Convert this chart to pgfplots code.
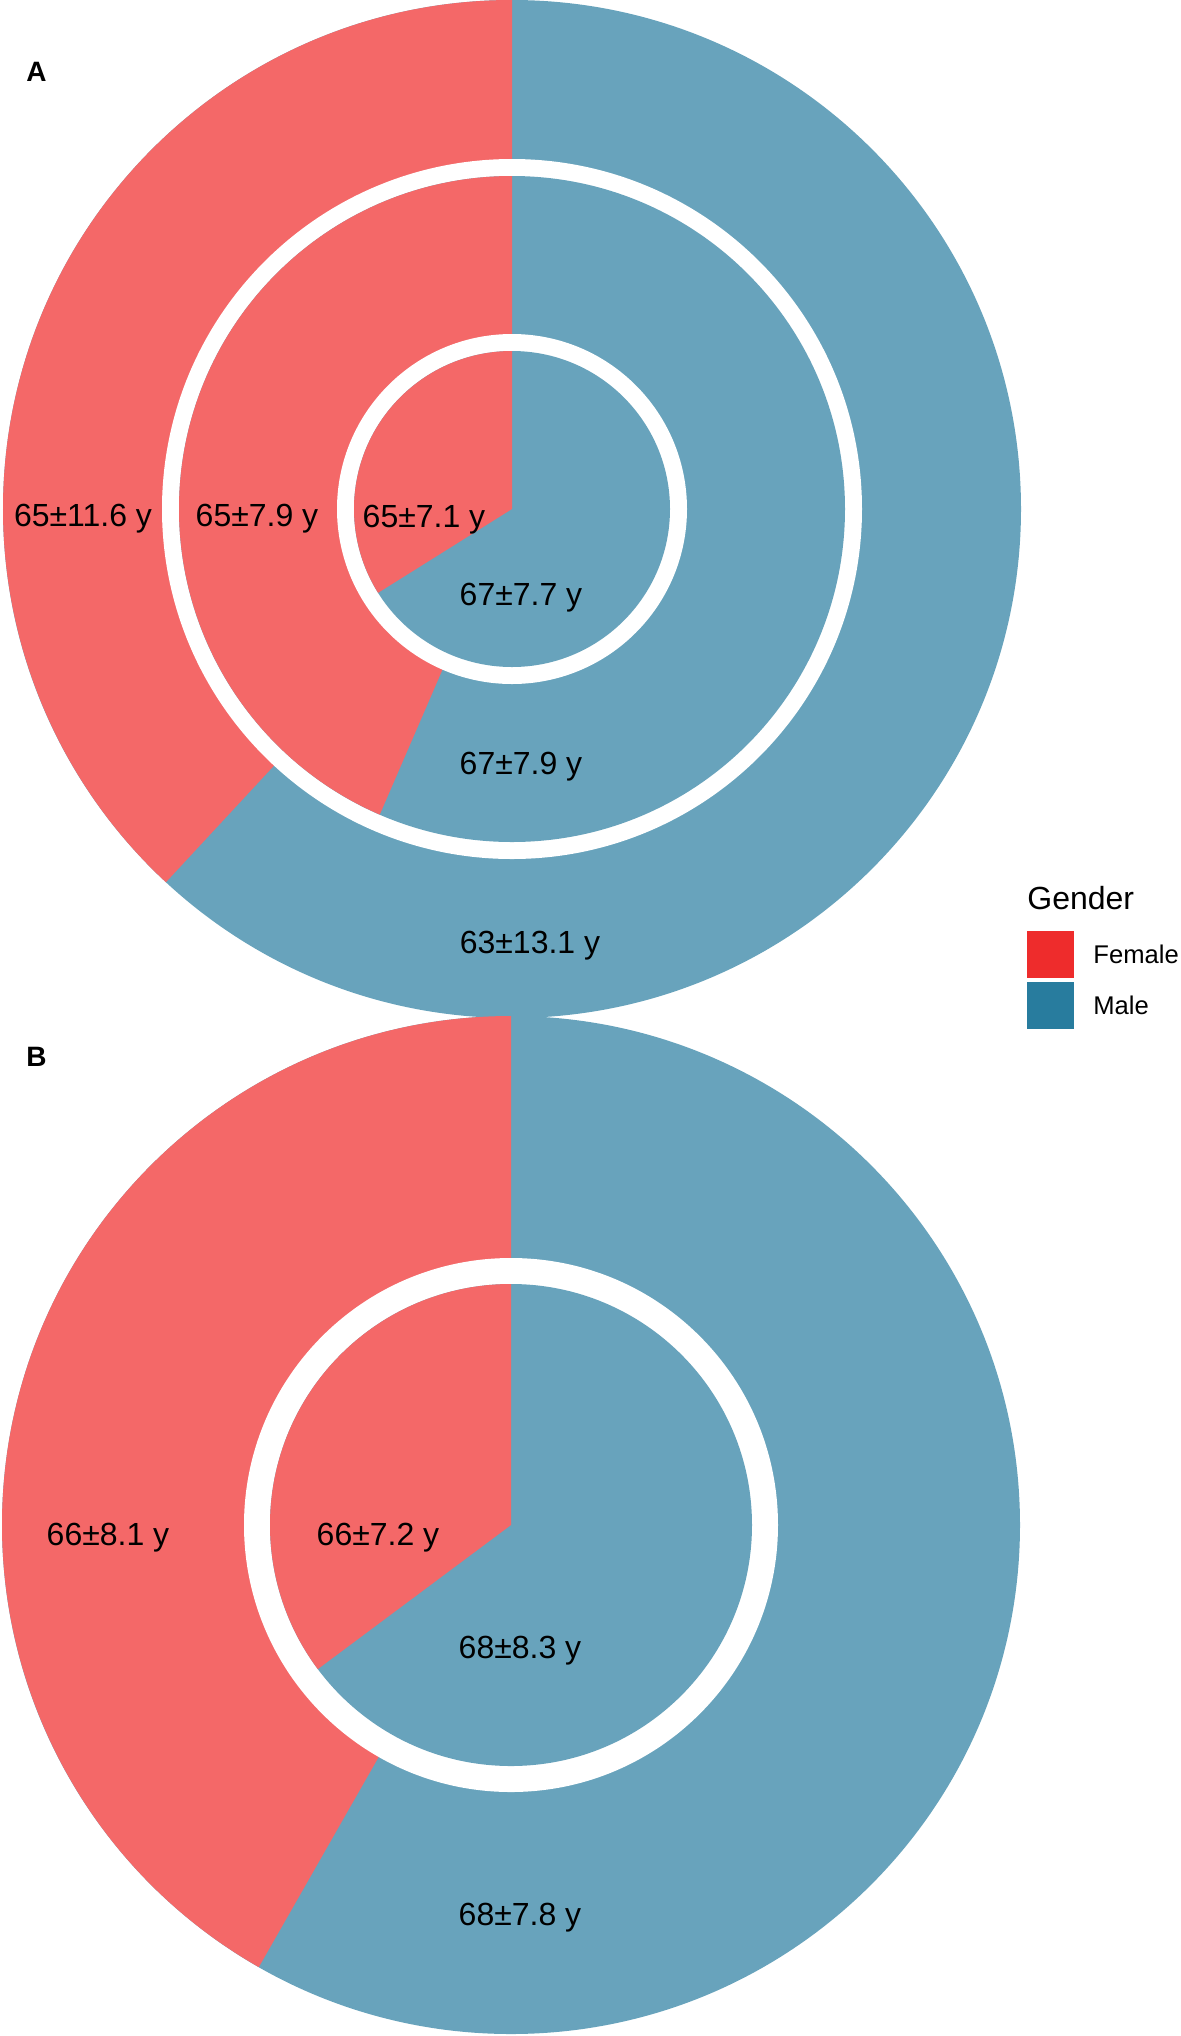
\documentclass[border=0pt]{standalone}
\usepackage{fontspec}
\setmainfont{Liberation Sans}
\usepackage{pgfplots}
\pgfplotsset{compat=1.18}
\definecolor{fempie}{HTML}{F46868}
\definecolor{malepie}{HTML}{68A3BC}
\definecolor{femkey}{HTML}{EE2C2C}
\definecolor{malekey}{HTML}{287C9E}
% female shares (fraction of the circle) of each ring
\def\AoutF{0.381}\def\AmidF{0.435}\def\AinF{0.339}
\def\BoutF{0.4175}\def\BinF{0.352}
% 1 px = 0.5 pt
\newcommand{\sector}[5]{% cx, cy, radius(px), fraction, color
  \fill[#5] (axis cs:#1,#2) -- ++(90:{#3*0.5pt}) arc[start angle=90, end angle={90+360*#4}, radius={#3*0.5pt}] -- cycle;}
\newcommand{\disc}[4]{\fill[#4] (axis cs:#1,#2) circle[radius={#3*0.5pt}];}
\begin{document}
\begin{tikzpicture}
\begin{axis}[
  scale only axis, width=590.5pt, height=1018pt,
  xmin=0, xmax=1181, ymin=0, ymax=2036, y dir=reverse,
  hide axis, clip=false]
\path (axis cs:0,0) rectangle (axis cs:1181,2036);
% Panel A
\disc{512}{509}{509}{malepie}
\sector{512}{509}{509}{\AoutF}{fempie}
\disc{512}{509}{350}{white}
\disc{512}{509}{333}{malepie}
\sector{512}{509}{333}{\AmidF}{fempie}
\disc{512}{509}{175}{white}
\disc{512}{509}{158}{malepie}
\sector{512}{509}{158}{\AinF}{fempie}
% Panel B
\disc{511}{1525}{509}{malepie}
\sector{511}{1525}{509}{\BoutF}{fempie}
\disc{511}{1525}{267}{white}
\disc{511}{1525}{241}{malepie}
\sector{511}{1525}{241}{\BinF}{fempie}
% labels
\begin{scope}[every node/.style={inner sep=0pt, anchor=base, font=\fontsize{16}{19}\selectfont}]
\node at (axis cs:83,526) {65±11.6 y};
\node at (axis cs:257,526) {65±7.9 y};
\node at (axis cs:424,527) {65±7.1 y};
\node at (axis cs:521,605) {67±7.7 y};
\node at (axis cs:521,774) {67±7.9 y};
\node at (axis cs:530,953) {63±13.1 y};
\node at (axis cs:108,1545) {66±8.1 y};
\node at (axis cs:378,1545) {66±7.2 y};
\node at (axis cs:520,1658) {68±8.3 y};
\node at (axis cs:520,1925) {68±7.8 y};
\end{scope}
\node[inner sep=0pt, anchor=base west, font=\fontsize{14}{17}\selectfont\bfseries] at (axis cs:26,81) {A};
\node[inner sep=0pt, anchor=base west, font=\fontsize{14}{17}\selectfont\bfseries] at (axis cs:26,1066) {B};
% legend
\node[inner sep=0pt, anchor=base west, font=\fontsize{16}{19}\selectfont] at (axis cs:1027,909) {Gender};
\fill[femkey] (axis cs:1027,931) rectangle (axis cs:1074,978);
\fill[malekey] (axis cs:1027,982) rectangle (axis cs:1074,1029);
\node[inner sep=0pt, anchor=base west, font=\fontsize{12.8}{15}\selectfont] at (axis cs:1093,963) {Female};
\node[inner sep=0pt, anchor=base west, font=\fontsize{12.8}{15}\selectfont] at (axis cs:1093,1014) {Male};
\end{axis}
\end{tikzpicture}
\end{document}
